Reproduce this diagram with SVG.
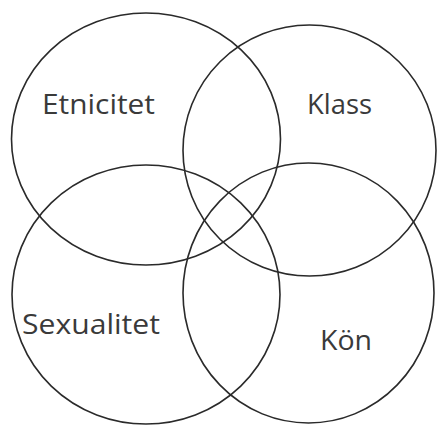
<svg xmlns="http://www.w3.org/2000/svg" width="438" height="426" viewBox="0 0 438 426">
<style>
.c{fill:none;stroke:#2a2a2a;stroke-width:1.6}
.t{font-family:"Open Sans","Liberation Sans",sans-serif;font-size:28px;fill:#3a3a3a}
</style>
<rect width="438" height="426" fill="#fff"/>
<g id="etnicitet"><ellipse class="c" cx="146" cy="139" rx="134.5" ry="126"/><text class="t" x="42" y="114" textLength="113" lengthAdjust="spacingAndGlyphs">Etnicitet</text></g>
<g id="klass"><ellipse class="c" cx="309.5" cy="150.5" rx="126.5" ry="125.5"/><text class="t" x="307" y="114" textLength="65" lengthAdjust="spacingAndGlyphs">Klass</text></g>
<g id="sexualitet"><ellipse class="c" cx="146" cy="294.5" rx="134" ry="129.5"/><text class="t" x="22" y="334" textLength="138" lengthAdjust="spacingAndGlyphs">Sexualitet</text></g>
<g id="kon"><ellipse class="c" cx="308.5" cy="293" rx="125.5" ry="130"/><text class="t" x="320" y="350" textLength="52" lengthAdjust="spacingAndGlyphs">Kön</text></g>
<g id="connectors"/>
</svg>
